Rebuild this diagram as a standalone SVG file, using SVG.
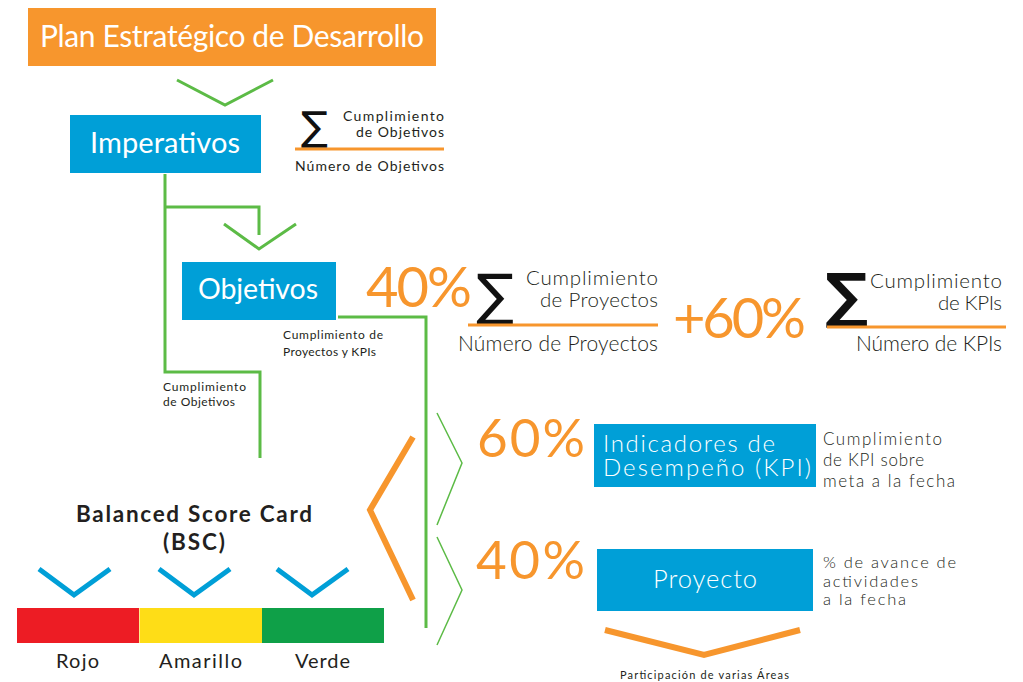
<svg xmlns="http://www.w3.org/2000/svg" width="1023" height="682" viewBox="0 0 1023 682">
<style>
text{font-family:Lato,"Open Sans","Liberation Sans",sans-serif;}
.box-o{fill:#F7962D;}
.box-b{fill:#009FD7;}
.wt{fill:#fff;}
.dk{fill:#231F20;}
.or{fill:#F7962D;}
.lt{font-weight:300;}
.gl{fill:none;stroke:#5CBB46;stroke-width:3;}
.gt{fill:none;stroke:#5CBB46;stroke-width:1.5;}
.ol{fill:none;stroke:#F7962D;stroke-width:6;}
.bl{fill:none;stroke:#009FD7;stroke-width:5;}
.fl{stroke:#F7962D;stroke-width:3;}
.sg{font-family:"DejaVu Sans",sans-serif;fill:#111;}
</style>
<g id="connectors">
<polyline class="gl" points="177,80 225,105 273,80"/>
<polyline class="gl" points="165,174 165,372 260,372 260,458"/>
<polyline class="gl" points="165,207 259,207 259,235"/>
<polyline class="gl" points="224,224 259,249 296,224"/>
<polyline class="gl" points="338,317 426,317 426,628"/>
<polyline class="ol" points="413,437 370,510 413,600"/>
<polyline class="gt" points="437,413 462,463 437,525"/>
<polyline class="gt" points="437,537 462,590 437,645"/>
<polyline class="ol" points="605,630 704,655 800,630"/>
<polyline class="bl" points="39,569 74,595 110,569"/>
<polyline class="bl" points="159,569 194,595 230,569"/>
<polyline class="bl" points="277,569 312,595 348,569"/>
<text x="283" y="339" font-size="12" class="dk" textLength="100">Cumplimiento de</text>
<text x="283" y="356" font-size="12" class="dk" textLength="93">Proyectos y KPIs</text>
<text x="163" y="391" font-size="12" class="dk" textLength="83">Cumplimiento</text>
<text x="163" y="406" font-size="12" class="dk" textLength="72">de Objetivos</text>
</g>
<g id="plan">
<rect class="box-o" x="28" y="8" width="408" height="58"/>
<text x="40" y="47" font-size="30" class="wt" textLength="384">Plan Estratégico de Desarrollo</text>
</g>
<g id="imperativos">
<rect class="box-b" x="70" y="115" width="191" height="58"/>
<text x="90" y="153" font-size="29" class="wt" textLength="150">Imperativos</text>
</g>
<g id="formula-objetivos">
<text x="301" y="140" font-size="40" class="sg">∑</text>
<text x="444" y="121" font-size="14" text-anchor="end" class="dk" textLength="101">Cumplimiento</text>
<text x="444" y="137" font-size="14" text-anchor="end" class="dk" textLength="88">de Objetivos</text>
<line class="fl" x1="295" y1="149" x2="444" y2="149"/>
<text x="444" y="171" font-size="14" text-anchor="end" class="dk" textLength="149">Número de Objetivos</text>
</g>
<g id="objetivos">
<rect class="box-b" x="182" y="262" width="154" height="58"/>
<text x="198" y="299" font-size="28.5" class="wt" textLength="120">Objetivos</text>
</g>
<g id="formula-objetivos-detalle">
<text x="366" y="307" font-size="56" class="or" textLength="106">40%</text>
<text x="476" y="314" font-size="56" class="sg">∑</text>
<text x="658" y="285" font-size="20.5" text-anchor="end" class="dk lt" textLength="132">Cumplimiento</text>
<text x="658" y="307" font-size="20.5" text-anchor="end" class="dk lt" textLength="118">de Proyectos</text>
<line class="fl" x1="468" y1="325" x2="658" y2="325"/>
<text x="658" y="351" font-size="21" text-anchor="end" class="dk lt" textLength="200">Número de Proyectos</text>
<text x="673" y="338" font-size="56" class="or" textLength="133">+60%</text>
<text x="825" y="316" font-size="60" font-weight="bold" class="sg">∑</text>
<text x="1002" y="288" font-size="20.5" text-anchor="end" class="dk lt" textLength="132">Cumplimiento</text>
<text x="1002" y="310" font-size="20.5" text-anchor="end" class="dk lt" textLength="64">de KPIs</text>
<line class="fl" x1="827" y1="327" x2="1006" y2="327"/>
<text x="1002" y="351" font-size="21" text-anchor="end" class="dk lt" textLength="146">Número de KPIs</text>
</g>
<g id="kpi">
<text x="477" y="457" font-size="53" class="or" textLength="108">60%</text>
<rect class="box-b" x="594" y="424" width="222" height="63"/>
<text x="603" y="452" font-size="24" class="wt lt" textLength="172">Indicadores de</text>
<text x="603" y="476" font-size="24" class="wt lt" textLength="208">Desempeño (KPI)</text>
<text x="823" y="445" font-size="17" class="dk lt" textLength="119">Cumplimiento</text>
<text x="823" y="466" font-size="17" class="dk lt" textLength="101">de KPI sobre</text>
<text x="823" y="487" font-size="17" class="dk lt" textLength="132">meta a la fecha</text>
</g>
<g id="proyecto">
<text x="476" y="579" font-size="53" class="or" textLength="109">40%</text>
<rect class="box-b" x="597" y="549" width="216" height="62"/>
<text x="653" y="588" font-size="25.5" class="wt lt" textLength="104">Proyecto</text>
<text x="823" y="568" font-size="16.5" class="dk lt" textLength="133">% de avance de</text>
<text x="823" y="587" font-size="16.5" class="dk lt" textLength="95">actividades</text>
<text x="823" y="605" font-size="16.5" class="dk lt" textLength="83">a la fecha</text>
<text x="620" y="679" font-size="11" class="dk" textLength="169">Participación de varias Áreas</text>
</g>
<g id="bsc">
<text x="76" y="522" font-size="22.5" font-weight="bold" class="dk" textLength="236">Balanced Score Card</text>
<text x="163" y="550" font-size="22.5" font-weight="bold" class="dk" textLength="62">(BSC)</text>
<rect x="17" y="608" width="122" height="35" fill="#ED1C24"/>
<rect x="139.5" y="608" width="122.5" height="35" fill="#FEDD17"/>
<rect x="262" y="608" width="122" height="35" fill="#0FA048"/>
<text x="56" y="668" font-size="20" class="dk" textLength="43">Rojo</text>
<text x="159" y="668" font-size="20" class="dk" textLength="83">Amarillo</text>
<text x="295" y="668" font-size="20" class="dk" textLength="55">Verde</text>
</g>
</svg>
